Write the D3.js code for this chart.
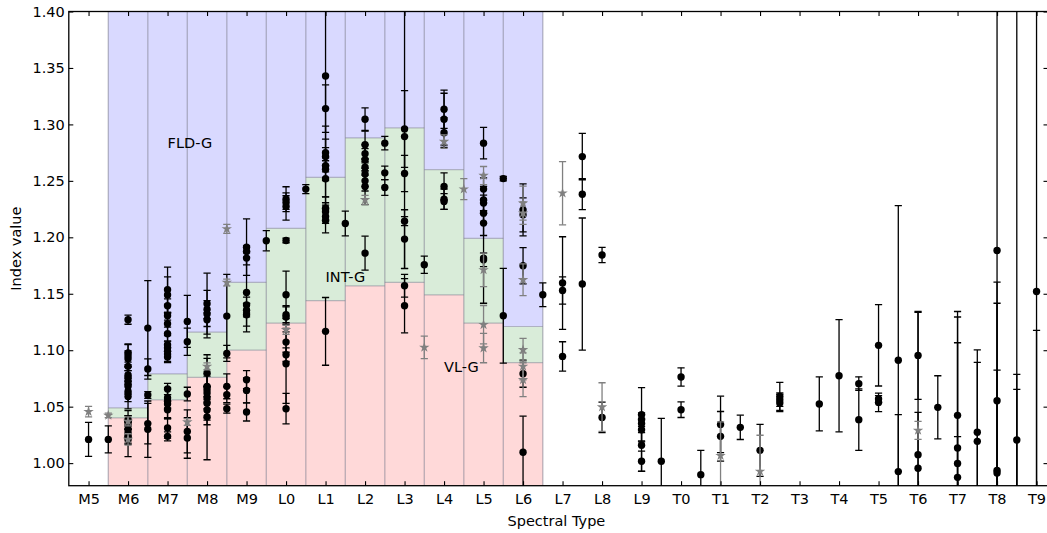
<!DOCTYPE html>
<html>
<head>
<meta charset="utf-8">
<script src="https://cdn.jsdelivr.net/npm/d3@7"></script>
<style>
  html, body { margin: 0; padding: 0; background: #fff; }
  svg { display: block; }
  text { font-family: "DejaVu Sans", sans-serif; }
</style>
</head>
<body>
<svg id="chart" width="1047" height="533"></svg>
<script>
// Spectral type code: M0 = 0, L0 = 10, T0 = 20 (half types allowed)
const tickTypes = [5, 6, 7, 8, 9, 10, 11, 12, 13, 14, 15, 16, 17, 18, 19, 20, 21, 22, 23, 24, 25, 26, 27, 28, 29];
const tickLabels = ["M5", "M6", "M7", "M8", "M9", "L0", "L1", "L2", "L3", "L4", "L5", "L6", "L7", "L8", "L9",
                    "T0", "T1", "T2", "T3", "T4", "T5", "T6", "T7", "T8", "T9"];
const yTicks = [1.00, 1.05, 1.10, 1.15, 1.20, 1.25, 1.30, 1.35, 1.40];

// Gravity class boundaries for M6..L6
const bandTypes = [6, 7, 8, 9, 10, 11, 12, 13, 14, 15, 16];
const vlgUpper  = [1.040, 1.056, 1.076, 1.100, 1.124, 1.144, 1.157, 1.160, 1.149, 1.124, 1.089];
const intgUpper = [1.049, 1.079, 1.116, 1.160, 1.208, 1.253, 1.288, 1.297, 1.260, 1.199, 1.121];

// [spectral type, index value, uncertainty]
const blackPoints = [
  [5, 1.021, 0.015], [5.5, 1.021, 0.012],
  [6, 1.127, 0.004], [6, 1.0975, 0.008], [6, 1.095, 0.010], [6, 1.0925, 0.007], [6, 1.0857, 0.012],
  [6, 1.078, 0.009], [6, 1.076, 0.006], [6, 1.072, 0.010], [6, 1.068, 0.007], [6, 1.0635, 0.009],
  [6, 1.059, 0.011], [6, 1.0385, 0.008], [6, 1.036, 0.006], [6, 1.033, 0.009], [6, 1.0297, 0.007],
  [6, 1.0267, 0.010], [6, 1.0237, 0.006], [6, 1.0208, 0.015],
  [6.5, 1.1196, 0.042], [6.5, 1.0834, 0.009], [6.5, 1.0604, 0.003], [6.5, 1.035, 0.018], [6.5, 1.030, 0.025],
  [7, 1.1536, 0.020], [7, 1.149, 0.016], [7, 1.1394, 0.006], [7, 1.1305, 0.010], [7, 1.1235, 0.009],
  [7, 1.1146, 0.012], [7, 1.1049, 0.008], [7, 1.102, 0.006], [7, 1.099, 0.009], [7, 1.094, 0.005],
  [7, 1.0657, 0.005], [7, 1.0577, 0.009], [7, 1.0547, 0.006], [7, 1.0524, 0.013], [7, 1.0473, 0.008],
  [7, 1.0312, 0.009], [7, 1.0237, 0.004],
  [7.5, 1.1255, 0.023], [7.5, 1.1075, 0.012], [7.5, 1.0612, 0.006], [7.5, 1.0281, 0.019], [7.5, 1.0223, 0.018],
  [8, 1.1412, 0.027], [8, 1.136, 0.008], [8, 1.132, 0.021], [8, 1.127, 0.006], [8, 1.0798, 0.013],
  [8, 1.068, 0.009], [8, 1.065, 0.031], [8, 1.062, 0.006], [8, 1.058, 0.010], [8, 1.053, 0.015],
  [8, 1.047, 0.007], [8, 1.041, 0.038],
  [8.5, 1.1302, 0.037], [8.5, 1.0972, 0.007], [8.5, 1.068, 0.011], [8.5, 1.0606, 0.007], [8.5, 1.0482, 0.004],
  [9, 1.1913, 0.025], [9, 1.1874, 0.005], [9, 1.1816, 0.006], [9, 1.1512, 0.035], [9, 1.140, 0.007],
  [9, 1.1355, 0.006], [9, 1.1314, 0.010], [9, 1.0739, 0.008], [9, 1.0644, 0.011], [9, 1.0453, 0.008],
  [9.5, 1.197, 0.009],
  [10, 1.2338, 0.011], [10, 1.2308, 0.006], [10, 1.2273, 0.012], [10, 1.1972, 0.002], [10, 1.1491, 0.021],
  [10, 1.1314, 0.007], [10, 1.1294, 0.010], [10, 1.1072, 0.009], [10, 1.096, 0.006], [10, 1.088, 0.035],
  [10, 1.0482, 0.0135],
  [10.5, 1.2427, 0.004],
  [11, 1.3429, 0.085], [11, 1.314, 0.021], [11, 1.275, 0.012], [11, 1.2715, 0.008], [11, 1.2635, 0.035],
  [11, 1.2603, 0.010], [11, 1.2518, 0.016], [11, 1.2258, 0.010], [11, 1.2226, 0.008], [11, 1.2184, 0.006],
  [11, 1.2149, 0.011], [11, 1.1167, 0.030],
  [11.5, 1.2122, 0.011],
  [12, 1.3046, 0.010], [12, 1.282, 0.012], [12, 1.274, 0.008], [12, 1.2686, 0.010], [12, 1.262, 0.007],
  [12, 1.256, 0.011], [12, 1.250, 0.009], [12, 1.245, 0.016], [12, 1.186, 0.015],
  [12.5, 1.2834, 0.006], [12.5, 1.2571, 0.006], [12.5, 1.2441, 0.007],
  [13, 1.296, 0.034], [13, 1.2892, 0.117], [13, 1.2565, 0.016], [13, 1.2143, 0.004], [13, 1.1984, 0.026],
  [13, 1.1571, 0.010], [13, 1.1394, 0.024],
  [13.5, 1.1757, 0.0077],
  [14, 1.3134, 0.017], [14, 1.3046, 0.023], [14, 1.2927, 0.013], [14, 1.245, 0.012], [14, 1.2338, 0.009],
  [14, 1.2317, 0.007],
  [15, 1.2834, 0.014], [15, 1.2427, 0.010], [15, 1.2332, 0.012], [15, 1.2303, 0.007], [15, 1.2214, 0.009],
  [15, 1.2126, 0.011], [15, 1.1816, 0.040], [15, 1.1801, 0.006],
  [15.5, 1.252, 0.002], [15.5, 1.1305, 0.042],
  [16, 1.2243, 0.023], [16, 1.2199, 0.015], [16, 1.1748, 0.016], [16, 1.0792, 0.012], [16, 1.0096, 0.032],
  [16.5, 1.1491, 0.0105],
  [17, 1.1595, 0.041], [17, 1.1529, 0.012], [17, 1.0945, 0.013],
  [17.5, 1.2715, 0.0205], [17.5, 1.2382, 0.0137], [17.5, 1.1586, 0.0585],
  [18, 1.1843, 0.0068], [18, 1.0405, 0.0135],
  [19, 1.0429, 0.024], [19, 1.0385, 0.006], [19, 1.035, 0.008], [19, 1.0296, 0.010], [19, 1.0158, 0.023],
  [19, 1.0016, 0.009],
  [19.5, 1.0016, 0.038],
  [20, 1.0763, 0.0081], [20, 1.0473, 0.0069],
  [20.5, 0.9898, 0.0215],
  [21, 1.0343, 0.025], [21, 1.0237, 0.022],
  [21.5, 1.0317, 0.0108],
  [22, 1.0113, 0.023],
  [22.5, 1.0591, 0.0124], [22.5, 1.0562, 0.006], [22.5, 1.0533, 0.0077],
  [23.5, 1.0524, 0.0239],
  [24, 1.0774, 0.0497],
  [24.5, 1.0704, 0.006], [24.5, 1.0385, 0.0272],
  [25, 1.1043, 0.036], [25, 1.0568, 0.003], [25, 1.0538, 0.0082],
  [25.5, 1.0911, 0.137], [25.5, 0.9925, 0.0505],
  [26, 1.0954, 0.0389], [26, 1.0075, 0.126], [26, 0.9954, 0.0496],
  [26.5, 1.0494, 0.028],
  [27, 1.0423, 0.092], [27, 1.0134, 0.116], [27, 0.9996, 0.107], [27, 0.9874, 0.036],
  [27.5, 1.0273, 0.073], [27.5, 1.0193, 0.070],
  [28, 1.1883, 0.300], [28, 1.0553, 0.105], [28, 0.9936, 0.148], [28, 0.9913, 0.091],
  [28.5, 1.0205, 0.400], [28.5, 0.975, 0.1036], [28.5, 0.972, 0.0933],
  [29, 1.152, 0.260], [29, 0.950, 0.1675]
];

const grayPoints = [
  [5, 1.0456, 0.0047], [5.5, 1.0423, 0.002], [6, 1.037, 0.004], [6, 1.021, 0.005],
  [7.5, 1.0364, 0.003], [8, 1.0857, 0.003], [8.5, 1.2075, 0.004], [8.5, 1.160, 0.003],
  [10, 1.1181, 0.004], [12, 1.2332, 0.004], [13.5, 1.1025, 0.010], [14, 1.2848, 0.006],
  [14.5, 1.2427, 0.0093], [15, 1.2547, 0.008], [15, 1.1712, 0.0148], [15, 1.1226, 0.017],
  [15, 1.1019, 0.013], [16, 1.2303, 0.015], [16, 1.2214, 0.010], [16, 1.1624, 0.014],
  [16, 1.1004, 0.010], [16, 1.0857, 0.012], [16, 1.0739, 0.015], [17, 1.2391, 0.028],
  [18, 1.0497, 0.0215], [21, 1.0066, 0.030], [22, 0.9927, 0.032], [26, 1.029, 0.008]
];

// Labels placed inside the bands
const bandLabels = [
  { text: "FLD-G", spt: 7,  value: 1.279 },
  { text: "INT-G", spt: 11, value: 1.160 },
  { text: "VL-G",  spt: 14, value: 1.081 }
];

const W = 1047, H = 533;
const margin = { left: 68.8, right: 1048, top: 11.5, bottom: 485.7 };

const x = d3.scaleLinear().domain([4.5, 29.29]).range([margin.left, margin.right]);
const y = d3.scaleLinear().domain([0.98, 1.40]).range([margin.bottom, margin.top]);

const svg = d3.select("#chart");

svg.append("defs").append("clipPath").attr("id", "plot-clip")
  .append("rect")
  .attr("x", margin.left).attr("y", margin.top)
  .attr("width", margin.right - margin.left).attr("height", margin.bottom - margin.top);

const plot = svg.append("g").attr("clip-path", "url(#plot-clip)");

// Gravity bands per spectral type
const bands = bandTypes.map((t, i) => ({ t, lo: vlgUpper[i], hi: intgUpper[i] }));
const bandG = plot.append("g");
const edgeColor = "rgba(110,110,130,0.45)";
bands.forEach(b => {
  const x0 = x(b.t - 0.5), x1 = x(b.t + 0.5);
  bandG.append("rect")
    .attr("x", x0).attr("width", x1 - x0)
    .attr("y", y(b.lo)).attr("height", y(0.98) - y(b.lo))
    .attr("fill", "#ffd9d9");
  bandG.append("rect")
    .attr("x", x0).attr("width", x1 - x0)
    .attr("y", y(b.hi)).attr("height", y(b.lo) - y(b.hi))
    .attr("fill", "#d9ecd9");
  bandG.append("rect")
    .attr("x", x0).attr("width", x1 - x0)
    .attr("y", y(1.40)).attr("height", y(b.hi) - y(1.40))
    .attr("fill", "#d9d9ff");
});
// band boundary lines
bands.forEach(b => {
  const x0 = x(b.t - 0.5), x1 = x(b.t + 0.5);
  [b.lo, b.hi].forEach(v => {
    bandG.append("line")
      .attr("x1", x0).attr("x2", x1).attr("y1", y(v)).attr("y2", y(v))
      .attr("stroke", edgeColor).attr("stroke-width", 1.2);
  });
});
const edges = bandTypes.map(t => t - 0.5).concat([bandTypes[bandTypes.length - 1] + 0.5]);
bandG.selectAll("line.edge").data(edges).enter().append("line")
  .attr("class", "edge")
  .attr("x1", d => x(d)).attr("x2", d => x(d))
  .attr("y1", y(0.98)).attr("y2", y(1.40))
  .attr("stroke", edgeColor).attr("stroke-width", 1.4);

// band labels
plot.selectAll("text.band").data(bandLabels).enter().append("text")
  .attr("class", "band")
  .attr("x", d => x(d.spt)).attr("y", d => y(d.value))
  .attr("font-size", "14.5px").attr("fill", "#000")
  .text(d => d.text);

// error bars with caps
function drawErrorBars(g, data, color) {
  const capHalf = 3.6;
  const eb = g.append("g").attr("stroke", color).attr("stroke-width", 1.3).attr("fill", "none");
  data.forEach(([t, v, e]) => {
    const cx = x(t), yTop = y(v + e), yBot = y(v - e);
    eb.append("line").attr("x1", cx).attr("x2", cx).attr("y1", yTop).attr("y2", yBot);
    eb.append("line").attr("x1", cx - capHalf).attr("x2", cx + capHalf).attr("y1", yTop).attr("y2", yTop);
    eb.append("line").attr("x1", cx - capHalf).attr("x2", cx + capHalf).attr("y1", yBot).attr("y2", yBot);
  });
}

drawErrorBars(plot, blackPoints, "#000");
plot.append("g").selectAll("circle").data(blackPoints).enter().append("circle")
  .attr("cx", d => x(d[0])).attr("cy", d => y(d[1])).attr("r", 3.7)
  .attr("fill", "#000");

drawErrorBars(plot, grayPoints, "#808080");
const star = d3.symbol().type(d3.symbolStar).size(34);
plot.append("g").selectAll("path").data(grayPoints).enter().append("path")
  .attr("d", star)
  .attr("transform", d => `translate(${x(d[0])},${y(d[1])})`)
  .attr("fill", "#808080");

// axes: ticks point inward on all four sides
const tickLen = 4.5;
const fmtX = d => tickLabels[tickTypes.indexOf(d)];

const axB = svg.append("g").attr("transform", `translate(0,${margin.bottom})`)
  .call(d3.axisBottom(x).tickValues(tickTypes).tickFormat(fmtX).tickSizeInner(-tickLen).tickSizeOuter(0).tickPadding(6));
const axT = svg.append("g").attr("transform", `translate(0,${margin.top})`)
  .call(d3.axisTop(x).tickValues(tickTypes).tickFormat("").tickSizeInner(-tickLen).tickSizeOuter(0));
const axL = svg.append("g").attr("transform", `translate(${margin.left},0)`)
  .call(d3.axisLeft(y).tickValues(yTicks).tickFormat(d3.format(".2f")).tickSizeInner(-tickLen).tickSizeOuter(0).tickPadding(4));
const axR = svg.append("g").attr("transform", `translate(${margin.right},0)`)
  .call(d3.axisRight(y).tickValues(yTicks).tickFormat("").tickSizeInner(-tickLen).tickSizeOuter(0));

[axB, axT, axL, axR].forEach(a => {
  a.select(".domain").remove();
  a.selectAll(".tick line").attr("stroke", "#000").attr("stroke-width", 1.1);
  a.selectAll(".tick text").attr("font-size", "14.5px").attr("fill", "#000")
    .attr("font-family", "DejaVu Sans, sans-serif");
});
axB.selectAll(".tick text").attr("dy", "0.85em");

// frame
svg.append("rect")
  .attr("x", margin.left).attr("y", margin.top)
  .attr("width", margin.right - margin.left).attr("height", margin.bottom - margin.top)
  .attr("fill", "none").attr("stroke", "#000").attr("stroke-width", 1.3);

// axis titles
svg.append("text")
  .attr("x", (margin.left + margin.right) / 2 - 2).attr("y", 526)
  .attr("text-anchor", "middle").attr("font-size", "14.5px")
  .text("Spectral Type");
svg.append("text")
  .attr("transform", `translate(21,${(margin.top + margin.bottom) / 2}) rotate(-90)`)
  .attr("text-anchor", "middle").attr("font-size", "14.5px")
  .text("Index value");
</script>
</body>
</html>
